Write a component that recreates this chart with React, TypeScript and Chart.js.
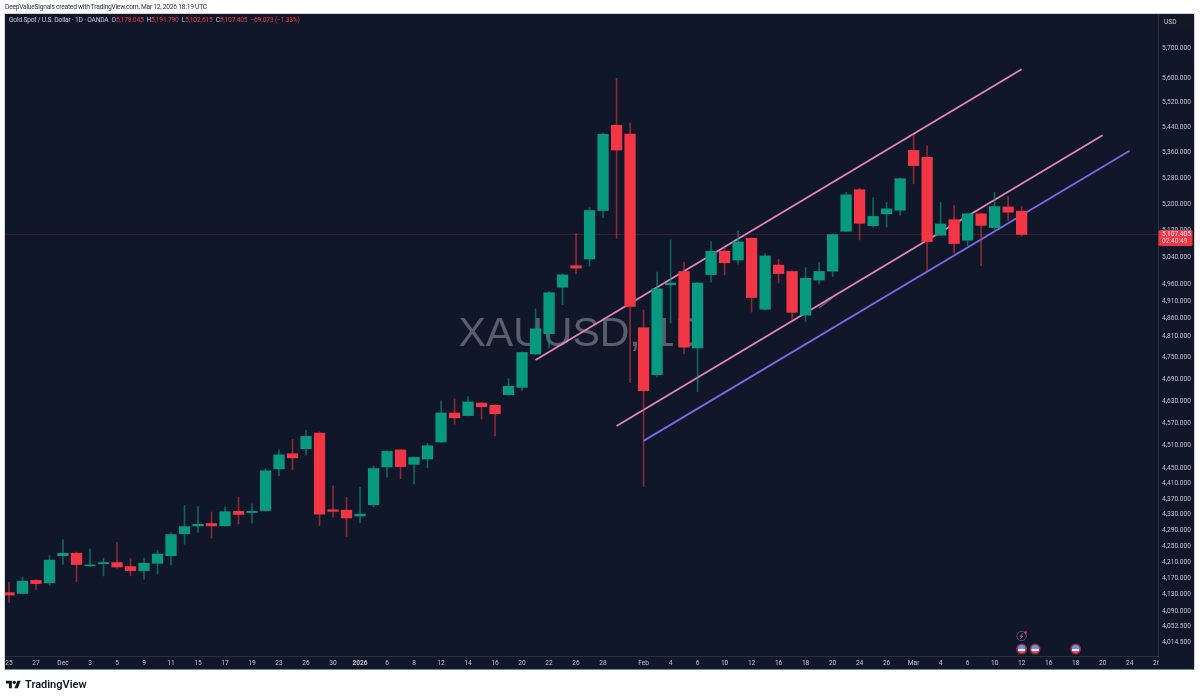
import { useEffect, useRef } from 'react';
import { Chart, registerables } from 'chart.js';

Chart.register(...registerables);

const opens = [4135, 4133, 4165, 4159, 4226, 4232, 4201, 4206, 4209, 4199, 4189, 4207, 4226, 4281, 4301, 4307, 4301, 4338, 4335, 4340, 4448, 4488, 4501, 4543, 4342, 4341, 4326, 4355, 4453, 4498, 4460, 4474, 4519, 4597, 4590, 4624, 4618, 4647, 4667, 4760, 4817, 4951, 5014, 5034, 5180, 5447, 5419, 4834, 4702, 4958, 4997, 4777, 4988, 5057, 5031, 5096, 4887, 5016, 4997, 4870, 4972, 4998, 5117, 5244, 5134, 5170, 5181, 5367, 5345, 5105, 5152, 5090, 5170, 5128, 5191, 5178.045];
const highs = [4160, 4173, 4166, 4226, 4266, 4235, 4243, 4220, 4260, 4219, 4220, 4240, 4284, 4353, 4350, 4336, 4349, 4374, 4357, 4448, 4498, 4526, 4550, 4546, 4404, 4374, 4400, 4456, 4497, 4500, 4480, 4516, 4630, 4635, 4642, 4626, 4620, 4691, 4766, 4888, 4938, 4990, 5111, 5189, 5422, 5600, 5454, 4885, 4995, 5091, 5025, 4965, 5086, 5071, 5118, 5098, 5049, 5033, 4999, 5008, 5023, 5109, 5236, 5248, 5219, 5205, 5280, 5416, 5381, 5205, 5195, 5172, 5172, 5236, 5223, 5191.79];
const lows = [4111, 4132, 4142, 4153, 4205, 4162, 4199, 4176, 4195, 4176, 4168, 4181, 4203, 4255, 4285, 4270, 4300, 4306, 4308, 4338, 4430, 4446, 4484, 4302, 4323, 4274, 4309, 4349, 4426, 4422, 4409, 4451, 4518, 4567, 4589, 4580, 4535, 4645, 4658, 4758, 4777, 4900, 4990, 5013, 5158, 5096, 4680, 4402, 4695, 4847, 4760, 4655, 4966, 4987, 5019, 4879, 4885, 4964, 4858, 4852, 4960, 4982, 5116, 5091, 5129, 5129, 5166, 5262, 4997, 5104, 5051, 5073, 5014, 5116, 5149, 5102.615];
const closes = [4129, 4163, 4157, 4215, 4232, 4204, 4203, 4209, 4198, 4189, 4207, 4230, 4279, 4299, 4305, 4301, 4337, 4330, 4338, 4443, 4485, 4477, 4534, 4331, 4338, 4321, 4331, 4449, 4494, 4454, 4478, 4509, 4597, 4584, 4627, 4614, 4595, 4670, 4764, 4831, 4935, 4987, 5007, 5180, 5418, 5368, 4895, 4658, 4946, 4963, 4779, 4963, 5057, 5023, 5085, 4921, 5043, 4991, 4878, 4977, 4997, 5107, 5228, 5141, 5162, 5185, 5278, 5319, 5086, 5139, 5080, 5170, 5135, 5192, 5175, 5107.405];

const priceTicks = [5700, 5600, 5520, 5440, 5360, 5280, 5200, 5120, 5040, 4960, 4910, 4860, 4810, 4750, 4690, 4630, 4570, 4510, 4450, 4410, 4370, 4330, 4290, 4250, 4210, 4170, 4130, 4090, 4052.5, 4014.5];
const dateTickBars = [0, 2, 4, 6, 8, 10, 12, 14, 16, 18, 20, 22, 24, 26, 28, 30, 32, 34, 36, 38, 40, 42, 44, 47, 49, 51, 53, 55, 57, 59, 61, 63, 65, 67, 69, 71, 73, 75, 77, 79, 81, 83, 85];
const dateTickLabels = ['25', '27', 'Dec', '3', '5', '9', '11', '15', '17', '19', '23', '26', '30', '2026', '6', '8', '12', '14', '16', '20', '22', '26', '28', 'Feb', '4', '6', '10', '12', '16', '18', '20', '24', '26', 'Mar', '4', '6', '10', '12', '16', '18', '20', '24', '26'];
const boldLabels = ['2026'];

// trend lines: [bar, price] at both ends
const upperChannel = [{ x: 39, y: 4743 }, { x: 75, y: 5630 }];
const middleChannel = [{ x: 45, y: 4562 }, { x: 81, y: 5415 }];
const lowerChannel = [{ x: 47, y: 4522 }, { x: 83, y: 5366 }];
const shortStroke = [{ x: 60, y: 4891 }, { x: 61, y: 4921 }];

const lastPrice = 5107.405;
const countdown = '02:40:49';
const flagBars = [75, 76, 79];
const boltBars = [75];

const UP = '#089981';
const DOWN = '#F23645';
const UP_WICK = 'rgba(8,153,129,0.6)';
const DOWN_WICK = 'rgba(242,54,69,0.55)';
const BG = '#0F1729';
const AXIS_TEXT = '#C3C6CE';
const FONT = 'Roboto, "Noto Sans", sans-serif';

const X_MIN = -0.296;
const X_MAX = 85.1;

const isUp = (i: number) => closes[i] >= opens[i];

const paneBackground = {
  id: 'paneBackground',
  beforeDraw(chart: any) {
    const { ctx } = chart;
    ctx.save();
    ctx.fillStyle = BG;
    ctx.fillRect(5, 14, 1189, 655.5);
    ctx.strokeStyle = 'rgba(120,125,140,0.35)';
    ctx.lineWidth = 1;
    ctx.strokeRect(4.5, 13.5, 1190, 656);
    ctx.restore();
  },
  beforeDatasetsDraw(chart: any) {
    const { ctx, chartArea } = chart;
    ctx.save();
    ctx.font = '41px "Liberation Sans", Arial, sans-serif';
    ctx.fillStyle = 'rgba(255,255,255,0.31)';
    ctx.textAlign = 'center';
    ctx.textBaseline = 'middle';
    ctx.fillText('XAUUSD, 1D', (chartArea.left + chartArea.right) / 2, 335);
    ctx.restore();
  },
};

const overlays = {
  id: 'overlays',
  afterDraw(chart: any) {
    const { ctx, scales } = chart;
    ctx.save();
    // the last date label is cut by the price axis
    ctx.fillStyle = BG;
    ctx.fillRect(1158.5, 657, 3, 12);

    // event flags
    flagBars.forEach((bar) => {
      const x = scales.x.getPixelForValue(bar);
      const y = 649;
      ctx.beginPath();
      ctx.arc(x, y, 5.5, 0, Math.PI * 2);
      ctx.fillStyle = '#9A2C3C';
      ctx.fill();
      ctx.save();
      ctx.beginPath();
      ctx.arc(x, y, 3.9, 0, Math.PI * 2);
      ctx.clip();
      ctx.fillStyle = '#5B9BE8';
      ctx.fillRect(x - 4, y - 4, 8, 4);
      ctx.fillStyle = '#F0E4E6';
      ctx.fillRect(x - 4, y, 8, 2);
      ctx.fillStyle = '#E05A66';
      ctx.fillRect(x - 4, y + 2, 8, 2);
      ctx.restore();
    });

    // bolt marker above the first flag
    boltBars.forEach((bar) => {
      const x = scales.x.getPixelForValue(bar);
      const y = 636;
      ctx.beginPath();
      ctx.arc(x, y, 4.7, 0, Math.PI * 2);
      ctx.strokeStyle = '#7A3A78';
      ctx.lineWidth = 1;
      ctx.stroke();
      ctx.beginPath();
      ctx.moveTo(x + 1.2, y - 2.5);
      ctx.lineTo(x - 1.2, y + 0.3);
      ctx.lineTo(x + 1, y + 0.1);
      ctx.lineTo(x - 1.2, y + 2.6);
      ctx.strokeStyle = '#A26AA6';
      ctx.stroke();
      ctx.beginPath();
      ctx.arc(x + 4, y - 3.4, 1.3, 0, Math.PI * 2);
      ctx.fillStyle = DOWN;
      ctx.fill();
    });

    // last price tag
    const tagY = scales.y.getPixelForValue(lastPrice);
    ctx.fillStyle = DOWN;
    ctx.beginPath();
    ctx.roundRect(1158.5, tagY - 4.5, 34, 16, 1.5);
    ctx.fill();
    ctx.fillStyle = '#FFFFFF';
    ctx.font = `6.6px ${FONT}`;
    ctx.textAlign = 'left';
    ctx.textBaseline = 'middle';
    ctx.fillText('5,107.405', 1162, tagY - 0.2);
    ctx.fillStyle = 'rgba(255,255,255,0.8)';
    ctx.fillText(countdown, 1162, tagY + 6.9);

    // currency box
    ctx.fillStyle = '#141824';
    ctx.beginPath();
    ctx.roundRect(1160, 16, 32, 13, 1.5);
    ctx.fill();
    ctx.fillStyle = AXIS_TEXT;
    ctx.fillText('USD', 1164, 22.8);
    ctx.restore();
  },
};

const App = () => {
  const canvasRef = useRef<HTMLCanvasElement>(null);

  useEffect(() => {
    if (!canvasRef.current) return;
    document.body.style.margin = '0';

    const bars = closes.map((_, i) => i);
    const lineStyle = (data: any[], color: string, width = 1.8) => ({
      type: 'line' as const,
      data,
      borderColor: color,
      borderWidth: width,
      pointRadius: 0,
      order: 3,
    });

    const chart = new Chart(canvasRef.current, {
      type: 'bar',
      data: {
        datasets: [
          {
            data: bars.map((i) => ({ x: i, y: [opens[i], closes[i]] })),
            backgroundColor: bars.map((i) => (isUp(i) ? UP : DOWN)),
            barThickness: 10.6,
            grouped: false,
            order: 1,
          },
          {
            data: bars.map((i) => ({ x: i, y: [lows[i], highs[i]] })),
            backgroundColor: bars.map((i) => (isUp(i) ? UP_WICK : DOWN_WICK)),
            barThickness: 1,
            grouped: false,
            order: 2,
          },
          lineStyle(upperChannel, '#E884B8'),
          lineStyle(middleChannel, '#E884B8'),
          lineStyle(lowerChannel, '#7B68E8'),
          lineStyle(shortStroke, 'rgba(190,170,230,0.5)', 1.4),
          lineStyle([{ x: X_MIN, y: lastPrice }, { x: X_MAX, y: lastPrice }], 'rgba(242,54,69,0.22)', 1),
        ] as any,
      },
      options: {
        animation: false,
        responsive: false,
        events: [],
        layout: { padding: { left: 5, top: 14, right: 6, bottom: 30.5 } },
        plugins: { legend: { display: false }, tooltip: { enabled: false } },
        scales: {
          x: {
            type: 'linear',
            offset: false,
            min: X_MIN,
            max: X_MAX,
            grid: { display: false, drawTicks: false },
            border: { color: 'rgba(150,160,180,0.18)' },
            afterBuildTicks: (scale: any) => {
              scale.ticks = dateTickBars.map((value) => ({ value }));
            },
            afterFit: (scale: any) => {
              scale.height = 13.5;
            },
            ticks: {
              autoSkip: false,
              maxRotation: 0,
              padding: 3,
              color: AXIS_TEXT,
              font: (ctx: any) => ({
                family: FONT,
                size: 6.6,
                weight: boldLabels.includes(dateTickLabels[ctx.index]) ? 'bold' : 'normal',
              }),
              callback: (value: any) => dateTickLabels[dateTickBars.indexOf(value)],
            },
          },
          y: {
            type: 'logarithmic',
            position: 'right',
            min: 3983.3,
            max: 5816.4,
            grid: { display: false, drawTicks: false },
            border: { color: 'rgba(150,160,180,0.18)' },
            afterBuildTicks: (scale: any) => {
              scale.ticks = priceTicks.map((value) => ({ value }));
            },
            afterFit: (scale: any) => {
              scale.width = 36;
            },
            ticks: {
              autoSkip: false,
              padding: 4,
              color: AXIS_TEXT,
              font: { family: FONT, size: 6.6 },
              callback: (value: any) =>
                Number(value).toLocaleString('en-US', { minimumFractionDigits: 3, maximumFractionDigits: 3 }),
            },
          },
        },
      } as any,
      plugins: [paneBackground, overlays],
    });

    return () => chart.destroy();
  }, []);

  const red = { color: '#F23645' };

  return (
    <div style={{ position: 'relative', width: 1200, height: 700, background: '#FFFFFF', overflow: 'hidden', fontFamily: FONT }}>
      <canvas ref={canvasRef} width={1200} height={700} style={{ position: 'absolute', left: 0, top: 0, display: 'block' }} />
      <div style={{ position: 'absolute', left: 5, top: 3, fontSize: 6.7, letterSpacing: -0.25, lineHeight: '9px', color: '#30343E', whiteSpace: 'nowrap' }}>
        DeepValueSignals created with TradingView.com, Mar 12, 2026 18:19 UTC
      </div>
      <div style={{ position: 'absolute', left: 9, top: 16, fontSize: 6.7, letterSpacing: -0.2, lineHeight: '9px', color: AXIS_TEXT, whiteSpace: 'nowrap' }}>
        Gold Spot / U.S. Dollar · 1D · OANDA
        <span style={{ marginLeft: 3 }}>O</span><span style={red}>5,178.045</span>
        <span style={{ marginLeft: 3 }}>H</span><span style={red}>5,191.790</span>
        <span style={{ marginLeft: 3 }}>L</span><span style={red}>5,102.615</span>
        <span style={{ marginLeft: 3 }}>C</span><span style={red}>5,107.405</span>
        <span style={{ ...red, marginLeft: 3 }}>−69.073 (−1.33%)</span>
      </div>
      <svg viewBox="0 0 36 28" width="15" height="11.7" style={{ position: 'absolute', left: 6, top: 678.5 }}>
        <path d="M14 22H7V11H0V4h14v18zM28 22h-8l7.5-18h8L28 22z" fill="#131722" />
        <circle cx="20" cy="8" r="4" fill="#131722" />
      </svg>
      <div style={{ position: 'absolute', left: 25, top: 678, fontSize: 11, lineHeight: '14px', fontWeight: 600, color: '#131722', whiteSpace: 'nowrap' }}>
        TradingView
      </div>
    </div>
  );
};

export default App;
